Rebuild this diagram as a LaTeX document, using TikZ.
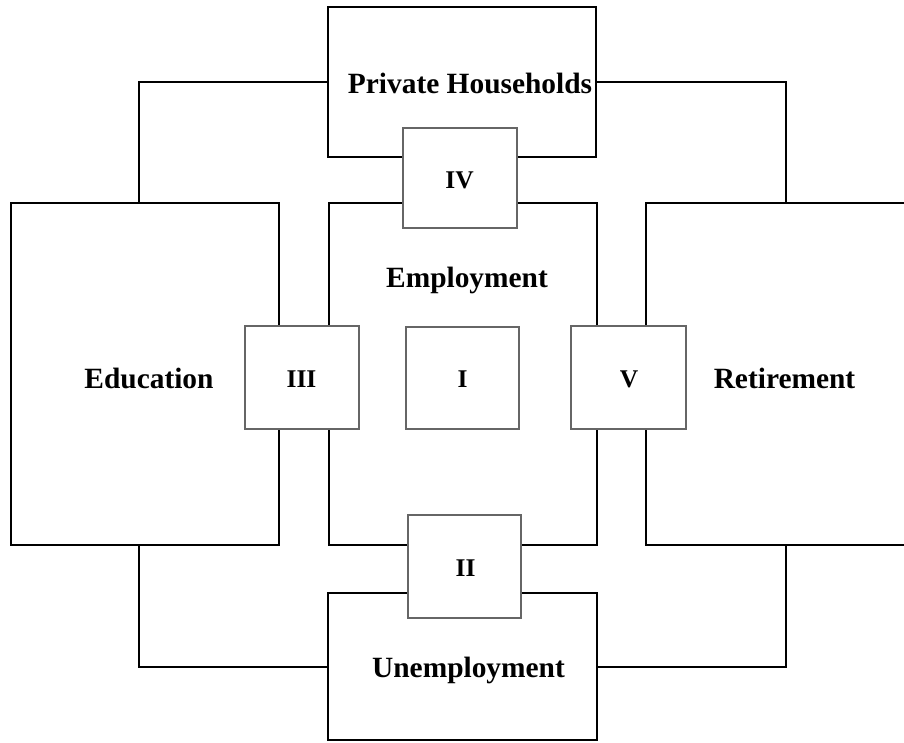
\documentclass[tikz,border=0pt]{standalone}
\usepackage{fontspec}
\setmainfont{Liberation Serif}
\begin{document}
\begin{tikzpicture}[x=1pt,y=-1pt,
  bigbox/.style={draw=black,line width=2pt,rectangle,inner sep=0pt,outer sep=0pt},
  smallbox/.style={draw=black!60,fill=white,line width=1.3pt,rectangle,inner sep=0pt,outer sep=0pt},
  conn/.style={draw=black,line width=2pt},
  bigtxt/.style={anchor=base,inner sep=0pt,font=\fontsize{29.4}{34}\selectfont\bfseries},
  numtxt/.style={anchor=base,inner sep=0pt,font=\fontsize{25.5}{30}\selectfont\bfseries}]
\useasboundingbox (0,0) rectangle (904,742);
% main boxes
\node[bigbox,minimum width=268pt,minimum height=150pt] (ph) at (462,82) {};
\node[bigbox,minimum width=268pt,minimum height=342pt] (edu) at (145,374) {};
\node[bigbox,minimum width=268pt,minimum height=342pt] (emp) at (463,374) {};
\node[bigbox,minimum width=279pt,minimum height=342pt] (ret) at (785.5,374) {};
\node[bigbox,minimum width=269pt,minimum height=147pt] (unemp) at (462.5,666.5) {};
% connectors
\draw[conn] (ph.west) -| ([xshift=-6pt]edu.north);
\draw[conn] (ph.east) -| (ret.north);
\draw[conn] ([xshift=-6pt]edu.south) |- (unemp.west);
\draw[conn] (ret.south) |- (unemp.east);
% small boxes
\node[smallbox,minimum width=114pt,minimum height=100pt] (iv) at (460,178) {};
\node[smallbox,minimum width=114pt,minimum height=103pt] (iii) at (302,377.5) {};
\node[smallbox,minimum width=113pt,minimum height=102pt] (i) at (462.5,378) {};
\node[smallbox,minimum width=115pt,minimum height=103pt] (v) at (628.5,377.5) {};
\node[smallbox,minimum width=113pt,minimum height=103pt] (ii) at (464.5,566.5) {};
% texts
\node[bigtxt] (tph) at (470,93) {Private Households};
\node[bigtxt] (temp) at (467,287) {Employment};
\node[bigtxt] (tedu) at (149,388) {Education};
\node[bigtxt] (tret) at (784.5,388) {Retirement};
\node[bigtxt] (tunemp) at (468.5,677) {Unemployment};
\node[numtxt] (tiv) at (459.5,188) {IV};
\node[numtxt] (tiii) at (301.5,387) {III};
\node[numtxt] (ti) at (462.5,387) {I};
\node[numtxt] (tv) at (629,387) {V};
\node[numtxt] (tii) at (465.5,576) {II};
\end{tikzpicture}
\end{document}
